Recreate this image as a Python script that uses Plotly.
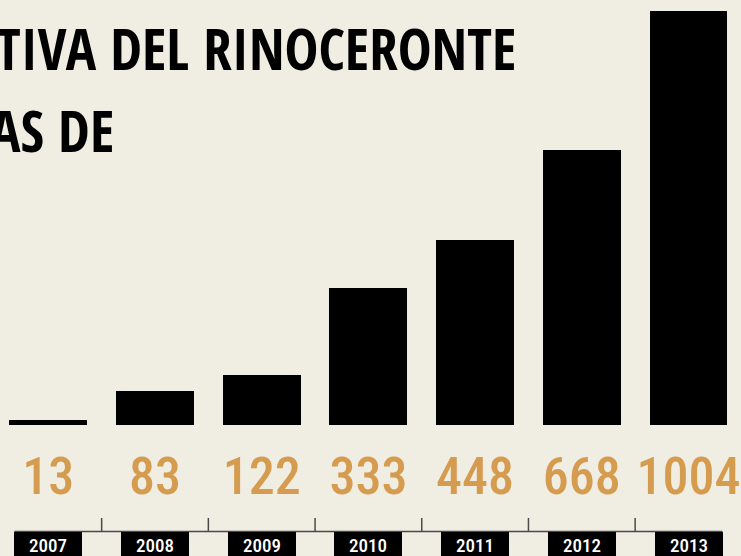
import plotly.graph_objects as go

# ---- data ----
years = ["2007", "2008", "2009", "2010", "2011", "2012", "2013"]
rhinos_killed = [13, 83, 122, 333, 448, 668, 1004]
title_lines = ["TIVA DEL RINOCERONTE", "AS DE"]

# ---- style ----
BG = "#f0ede3"
ORANGE = "#d59b4f"
W, H = 741, 556
COND = "Open Sans Condensed"
COND2 = "Roboto Condensed"

n = len(years)
xs = list(range(n))

def py(px):  # pixel row -> paper y
    return 1 - px / H

fig = go.Figure()
fig.add_trace(go.Bar(
    x=xs, y=rhinos_killed, width=0.73,
    marker=dict(color="#000000", line=dict(width=0)),
    hoverinfo="skip", showlegend=False,
))
LABEL_Y = -136
fig.add_trace(go.Scatter(
    x=xs, y=[LABEL_Y] * n, mode="text",
    text=[str(v) for v in rhinos_killed],
    textposition="middle center",
    textfont=dict(family=COND2, size=52, color=ORANGE, weight=500),
    hoverinfo="skip", showlegend=False,
))

annotations = []
# year boxes
for i, yr in enumerate(years):
    annotations.append(dict(
        x=i, xref="x", y=py(531.5), yref="paper", yanchor="top", xanchor="center",
        text=yr, showarrow=False, bgcolor="#000000", width=68, height=26,
        borderpad=0, borderwidth=0, valign="middle",
        font=dict(family=COND2, size=19, color="#ffffff", weight=500),
    ))
# title
annotations.append(dict(
    x=-6 / W, xref="paper", xanchor="left", y=py(48), yref="paper", yanchor="middle",
    text=title_lines[0], showarrow=False,
    font=dict(family=COND, size=57, color="#000000", weight=700),
))
annotations.append(dict(
    x=-12 / W, xref="paper", xanchor="left", y=py(130), yref="paper", yanchor="middle",
    text=title_lines[1], showarrow=False,
    font=dict(family=COND, size=57, color="#000000", weight=700),
))

shapes = []
half_box = 34 / 106.7
shapes.append(dict(type="line", xref="x", yref="paper",
                   x0=-half_box, x1=n - 1 + half_box, y0=py(531.5), y1=py(531.5),
                   line=dict(color="#4a4a4a", width=1.5)))
for i in range(n - 1):
    shapes.append(dict(type="line", xref="x", yref="paper",
                       x0=i + 0.5, x1=i + 0.5, y0=py(518), y1=py(531.5),
                       line=dict(color="#4a4a4a", width=1.5)))

fig.update_layout(
    width=W, height=H,
    margin=dict(l=0, r=0, t=0, b=0),
    paper_bgcolor=BG, plot_bgcolor=BG,
    xaxis=dict(range=[-0.4527, 6.492], visible=False, fixedrange=True),
    yaxis=dict(range=[-317.6, 1030.6], visible=False, fixedrange=True),
    bargap=0,
    annotations=annotations,
    shapes=shapes,
)

fig.write_html("out.html", config=dict(displayModeBar=False),
               post_script="document.body.style.margin='0';")
